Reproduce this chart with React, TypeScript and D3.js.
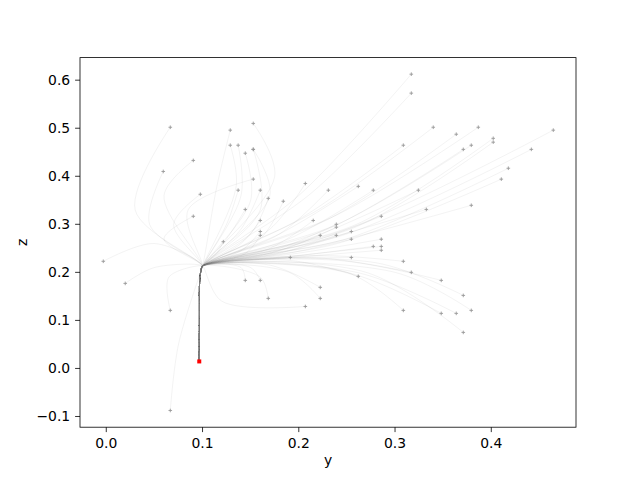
import React from "react";
import * as d3 from "d3";

// trajectory end points (y, z)
const endY = [0.0665,0.1527,0.1288,0.1288,0.137,0.1527,0.1527,0.1444,0.0904,0.0592,0.1527,0.2068,0.2307,0.0977,0.137,0.16,0.1683,0.1839,0.1444,0.0904,0.16,0.215,0.16,0.16,0.2223,0.1216,0.3169,0.3169,0.3397,0.3865,0.3636,0.4644,0.402,0.402,0.3086,0.3709,0.3792,0.4416,0.4177,0.4104,0.2618,0.2774,0.3242,0.3792,0.3325,0.2857,0.239,0.239,0.239,0.2546,0.2546,0.2857,-0.0031,0.0197,0.1912,0.1444,0.16,0.2223,0.1683,0.2223,0.2068,0.0665,0.0665,0.2774,0.2857,0.2857,0.2546,0.3086,0.3169,0.2618,0.348,0.3709,0.3086,0.348,0.3636,0.3792,0.3709];
const endZ = [0.502,0.51,0.496,0.4646,0.4646,0.456,0.456,0.448,0.433,0.41,0.394,0.385,0.371,0.3625,0.371,0.371,0.354,0.348,0.331,0.3167,0.308,0.308,0.285,0.277,0.277,0.2638,0.6125,0.573,0.502,0.502,0.4875,0.496,0.479,0.471,0.4646,0.456,0.4646,0.456,0.4167,0.394,0.379,0.371,0.371,0.3396,0.331,0.3167,0.3,0.294,0.277,0.285,0.269,0.269,0.223,0.177,0.231,0.1833,0.1833,0.1688,0.1458,0.1458,0.129,0.1208,-0.0875,0.254,0.254,0.246,0.231,0.223,0.2,0.1917,0.1833,0.152,0.1208,0.1146,0.1146,0.1208,0.075];
// an intermediate point read along each trajectory
const viaY = [0.03,0.175,0.115,0.135,0.14,0.17,0.16,0.15,0.06,0.045,0.085,0.17,0.18,0.07,0.125,0.14,0.15,0.16,0.125,0.06,0.14,0.17,0.14,0.145,0.17,0.115,0.2,0.21,0.22,0.24,0.23,0.25,0.26,0.26,0.2,0.23,0.24,0.25,0.25,0.24,0.18,0.19,0.21,0.23,0.21,0.2,0.18,0.18,0.18,0.19,0.19,0.2,0.05,0.05,0.15,0.14,0.15,0.17,0.16,0.19,0.12,0.065,0.075,0.2,0.2,0.2,0.18,0.22,0.22,0.19,0.24,0.28,0.25,0.25,0.26,0.3,0.27];
const viaZ = [0.33,0.4,0.38,0.38,0.36,0.36,0.33,0.35,0.36,0.3,0.33,0.29,0.28,0.3,0.3,0.29,0.28,0.27,0.27,0.27,0.26,0.25,0.245,0.24,0.24,0.24,0.36,0.36,0.33,0.32,0.31,0.29,0.3,0.295,0.31,0.29,0.3,0.28,0.27,0.26,0.28,0.27,0.27,0.26,0.26,0.255,0.25,0.245,0.24,0.245,0.24,0.24,0.26,0.21,0.225,0.21,0.21,0.215,0.19,0.2,0.14,0.19,0.05,0.235,0.235,0.232,0.23,0.235,0.23,0.225,0.225,0.22,0.2,0.2,0.2,0.2,0.2];
// common trunk from the start point up to the hub
const trunkY = [0.0966, 0.0967, 0.0968, 0.097, 0.0985, 0.1];
const trunkZ = [0.0146, 0.06, 0.12, 0.18, 0.205, 0.213];
const startY = 0.0966;
const startZ = 0.0146;

const xTicks = [0.0, 0.1, 0.2, 0.3, 0.4];
const yTicks = [-0.1, 0.0, 0.1, 0.2, 0.3, 0.4, 0.5, 0.6];

const W = 640, H = 480;
const L = 80, R = 576, T = 57.6, B = 427.2;

export default function App() {
  const x = d3.scaleLinear().domain([-0.0273, 0.488]).range([L, R]);
  const y = d3.scaleLinear().domain([-0.1223, 0.647]).range([B, T]);
  const line = d3.line<[number, number]>().x(d => x(d[0])).y(d => y(d[1])).curve(d3.curveCatmullRom.alpha(0.5));
  const fmt = (v: number) => v.toFixed(1).replace("-", "\u2212");
  const paths = endY.map((ey, i) => {
    const pts: [number, number][] = trunkY.map((ty, k) => [ty, trunkZ[k]] as [number, number]);
    pts.push([viaY[i], viaZ[i]]);
    pts.push([ey, endZ[i]]);
    return line(pts) as string;
  });
  const font = "'DejaVu Sans', sans-serif";
  return (
    <svg width={W} height={H} style={{ position: "absolute", left: 0, top: 0 }} fontFamily={font}>
      <rect width={W} height={H} fill="white" />
      <defs>
        <clipPath id="clip"><rect x={L} y={T} width={R - L} height={B - T} /></clipPath>
      </defs>
      <g clipPath="url(#clip)">
        {paths.map((d, i) => (
          <path key={i} d={d} fill="none" stroke="#808080" strokeOpacity={0.12} strokeWidth={0.8} />
        ))}
        {endY.map((ey, i) => (
          <g key={"m" + i} stroke="#999" strokeWidth={0.9}>
            <line x1={x(ey) - 1.8} x2={x(ey) + 1.8} y1={y(endZ[i])} y2={y(endZ[i])} />
            <line x1={x(ey)} x2={x(ey)} y1={y(endZ[i]) - 1.8} y2={y(endZ[i]) + 1.8} />
          </g>
        ))}
        <rect x={x(startY) - 2} y={y(startZ) - 2} width={4} height={4} fill="red" />
      </g>
      <rect x={L} y={T} width={R - L} height={B - T} fill="none" stroke="black" strokeWidth={0.8} />
      {xTicks.map(t => (
        <g key={"x" + t}>
          <line x1={x(t)} x2={x(t)} y1={B} y2={B + 4.9} stroke="black" strokeWidth={0.8} />
          <text x={x(t)} y={B + 20.5} fontSize={13.9} textAnchor="middle" fill="black">{fmt(t)}</text>
        </g>
      ))}
      {yTicks.map(t => (
        <g key={"y" + t}>
          <line x1={L} x2={L - 4.9} y1={y(t)} y2={y(t)} stroke="black" strokeWidth={0.8} />
          <text x={L - 9.8} y={y(t)} dy="0.35em" fontSize={13.9} textAnchor="end" fill="black">{fmt(t)}</text>
        </g>
      ))}
      <text x={(L + R) / 2} y={465} fontSize={13.9} textAnchor="middle" fill="black">y</text>
      <text transform={`translate(27,${(T + B) / 2}) rotate(-90)`} fontSize={13.9} textAnchor="middle" fill="black">z</text>
    </svg>
  );
}
